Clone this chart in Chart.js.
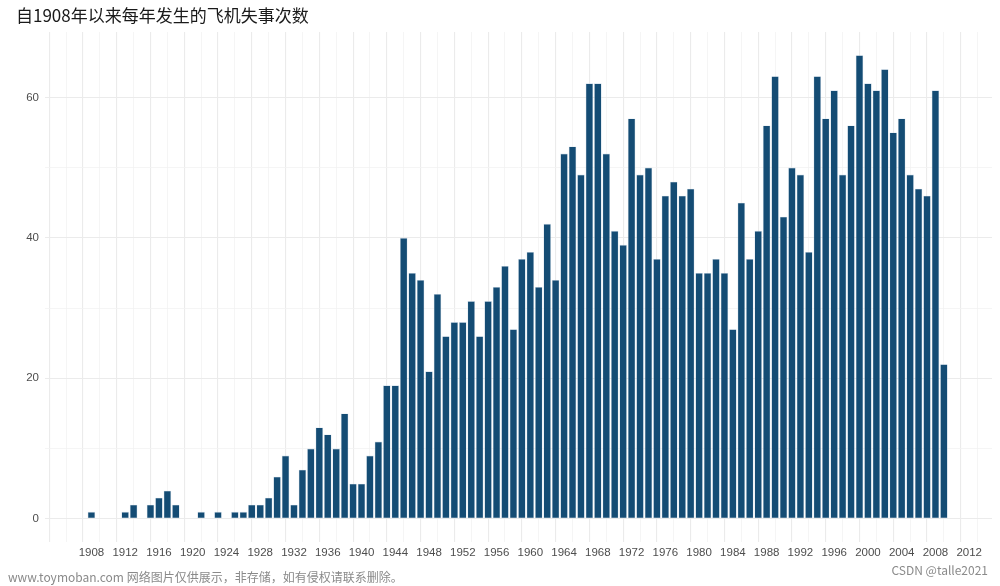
<!DOCTYPE html>
<html>
<head>
<meta charset="utf-8">
<script src="https://cdn.jsdelivr.net/npm/chart.js@4/dist/chart.umd.min.js"></script>
<style>
  html, body { margin: 0; padding: 0; background: #fff; }
</style>
</head>
<body>
<canvas id="barChart" width="1000" height="586"></canvas>
<script>
const CHART = document.getElementById('barChart');

// data
var years = [];
for (var yr = 1908; yr <= 2009; yr++) years.push(yr);

var crashes = [
  1, 0, 0, 0, 1, 2, 0, 2, 3, 4,          // 1908-1917
  2, 0, 0, 1, 0, 1, 0, 1, 1, 2,          // 1918-1927
  2, 3, 6, 9, 2, 7, 10, 13, 12, 10,      // 1928-1937
  15, 5, 5, 9, 11, 19, 19, 40, 35, 34,   // 1938-1947
  21, 32, 26, 28, 28, 31, 26, 31, 33, 36,// 1948-1957
  27, 37, 38, 33, 42, 34, 52, 53, 49, 62,// 1958-1967
  62, 52, 41, 39, 57, 49, 50, 37, 46, 48,// 1968-1977
  46, 47, 35, 35, 37, 35, 27, 45, 37, 41,// 1978-1987
  56, 63, 43, 50, 49, 38, 63, 57, 61, 49,// 1988-1997
  56, 66, 62, 61, 64, 55, 57, 49, 47, 46,// 1998-2007
  61, 22                                 // 2008-2009
];

var xTickStep = 2;   // labels every 4 years, minor lines every 2
var xFirstLabel = 1908;
var yTicks = [0, 20, 40, 60];

var title = '自1908年以来每年发生的飞机失事次数';
var watermarkLeft = 'www.toymoban.com 网络图片仅供展示，非存储，如有侵权请联系删除。';
var watermarkRight = 'CSDN @talle2021';

var points = years.map(function (y, i) { return { x: y, y: crashes[i] }; });

var watermark = {
  id: 'watermark',
  afterDraw: function (chart) {
    var c = chart.ctx;
    c.save();
    c.fillStyle = '#8a8a8a';
    c.font = '12px "Noto Sans CJK SC", "DejaVu Sans", sans-serif';
    c.textBaseline = 'middle';
    c.textAlign = 'left';
    c.fillText(watermarkLeft, 8, 577);
    c.textAlign = 'right';
    c.fillText(watermarkRight, 988, 570);
    c.restore();
  }
};

new Chart(CHART, {
  type: 'bar',
  data: {
    datasets: [{
      data: points,
      backgroundColor: '#144c74',
      borderColor: 'rgba(200,215,230,0.9)',
      borderWidth: function (ctx) { return ctx.raw && ctx.raw.y > 0 ? 0.6 : 0; },
      borderSkipped: false,
      barPercentage: 0.9,
      categoryPercentage: 1.0
    }]
  },
  options: {
    responsive: false,
    animation: false,
    devicePixelRatio: 1,
    layout: { padding: { left: 16, right: 8, top: 0, bottom: 18 } },
    plugins: {
      legend: { display: false },
      tooltip: { enabled: false },
      title: {
        display: true,
        text: title,
        align: 'start',
        color: '#1a1a1a',
        font: { family: '"Noto Sans CJK SC", sans-serif', size: 17, weight: 'normal' },
        padding: { top: 5, bottom: 6.6 }
      }
    },
    scales: {
      x: {
        type: 'linear',
        min: 1902.5,
        max: 2014.7,
        offset: false,
        border: { display: false },
        grid: {
          drawTicks: false,
          color: function (ctx) { return ctx.tick && ctx.tick.value % 4 === 0 ? '#ebebeb' : '#f3f3f3'; },
          lineWidth: function (ctx) { return ctx.tick && ctx.tick.value % 4 === 0 ? 1.1 : 0.8; }
        },
        ticks: {
          stepSize: xTickStep,
          includeBounds: false,
          autoSkip: false,
          maxRotation: 0,
          padding: 4,
          color: '#4d4d4d',
          font: { family: 'Liberation Sans, Arial, sans-serif', size: 11.5 },
          callback: function (v) { return (v % 4 === 0 && v >= xFirstLabel) ? String(v) : ''; }
        },
        afterFit: function (scale) { scale.height = 26; }
      },
      y: {
        min: -3.3,
        max: 69.3,
        border: { display: false },
        grid: {
          drawTicks: false,
          color: function (ctx) { return ctx.tick && yTicks.indexOf(ctx.tick.value) >= 0 ? '#ebebeb' : '#f3f3f3'; },
          lineWidth: function (ctx) { return ctx.tick && yTicks.indexOf(ctx.tick.value) >= 0 ? 1.1 : 0.8; }
        },
        ticks: {
          stepSize: 10,
          includeBounds: false,
          padding: 6,
          color: '#4d4d4d',
          font: { family: 'Liberation Sans, Arial, sans-serif', size: 11.5 },
          callback: function (v) { return yTicks.indexOf(v) >= 0 ? String(v) : ''; }
        },
        afterFit: function (scale) { scale.width = 29; }
      }
    }
  },
  plugins: [watermark]
});
</script>
</body>
</html>
